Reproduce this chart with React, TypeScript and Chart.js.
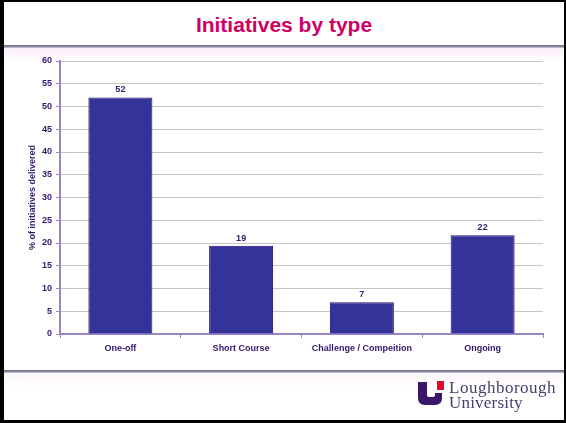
import React, { useEffect, useRef } from "react";
import { Chart, registerables } from "chart.js";

Chart.register(...registerables);

const categories = ["One-off", "Short Course", "Challenge / Compeition", "Ongoing"];
const values = [52, 19.4, 7, 21.7];
const yMin = 0;
const yMax = 60;
const yStep = 5;
const chartTitle = "Initiatives by type";
const yAxisTitle = "% of initiatives delivered";

const FONT = "Arial, 'Liberation Sans', sans-serif";
const TEXT_PURPLE = "#33186b";
const AXIS_PURPLE = "#9886c2";

const barLabelPlugin = {
  id: "barLabels",
  afterDatasetsDraw(chart: any) {
    const ctx = chart.ctx;
    const meta = chart.getDatasetMeta(0);
    ctx.save();
    ctx.font = `bold 9px ${FONT}`;
    ctx.fillStyle = TEXT_PURPLE;
    ctx.textAlign = "center";
    ctx.textBaseline = "alphabetic";
    meta.data.forEach((bar: any, i: number) => {
      ctx.fillText(String(Math.round(values[i])), bar.x, bar.y - 5);
    });
    ctx.restore();
  },
};

export default function App() {
  const canvasRef = useRef<HTMLCanvasElement | null>(null);

  useEffect(() => {
    if (!canvasRef.current) return;
    const chart = new Chart(canvasRef.current, {
      type: "bar",
      data: {
        labels: categories,
        datasets: [
          {
            data: values,
            backgroundColor: "#333399",
            borderColor: "#2a0d6a",
            borderWidth: 1,
            barPercentage: 0.53,
            categoryPercentage: 1,
          },
        ],
      },
      options: {
        animation: false,
        responsive: false,
        maintainAspectRatio: false,
        layout: { padding: { left: 0, top: 61, right: 23, bottom: 0 } },
        plugins: {
          legend: { display: false },
          title: { display: false },
          tooltip: { enabled: false },
        },
        scales: {
          x: {
            type: "category",
            offset: true,
            afterFit: (axis: any) => {
              axis.height = 89;
            },
            grid: {
              display: true,
              drawOnChartArea: false,
              drawTicks: true,
              tickLength: 4,
              tickColor: AXIS_PURPLE,
              offset: true,
            },
            border: { display: true, color: AXIS_PURPLE, width: 2 },
            ticks: {
              color: TEXT_PURPLE,
              font: { family: FONT, size: 9, weight: "bold" },
              padding: 5,
              maxRotation: 0,
              autoSkip: false,
            },
          },
          y: {
            min: yMin,
            max: yMax,
            afterFit: (axis: any) => {
              axis.width = 60;
            },
            grid: {
              color: "#c6c6c6",
              lineWidth: 1,
              drawTicks: true,
              tickLength: 4,
              tickColor: AXIS_PURPLE,
            },
            border: { display: true, color: AXIS_PURPLE, width: 2 },
            ticks: {
              stepSize: yStep,
              color: TEXT_PURPLE,
              font: { family: FONT, size: 9, weight: "bold" },
              padding: 4,
            },
            title: {
              display: true,
              text: yAxisTitle,
              color: TEXT_PURPLE,
              font: { family: FONT, size: 9, weight: "bold" },
              padding: { top: 27, bottom: 0 },
            },
          },
        },
      },
      plugins: [barLabelPlugin],
    } as any);
    return () => chart.destroy();
  }, []);

  return (
    <div
      style={{
        position: "fixed",
        left: 0,
        top: 0,
        width: 566,
        height: 423,
        background: "#000",
        overflow: "hidden",
      }}
    >
      <div
        style={{
          position: "absolute",
          left: 4,
          top: 2,
          width: 560,
          height: 418,
          background: "#fff",
        }}
      />
      <div
        style={{
          position: "absolute",
          left: 4,
          top: 48,
          width: 560,
          height: 14,
          background: "linear-gradient(#fbeff8, #ffffff)",
        }}
      />
      <div
        style={{
          position: "absolute",
          left: 4,
          top: 45,
          width: 560,
          height: 3,
          background: "linear-gradient(#6a6582, #8d88a3, #cfcbd9)",
        }}
      />
      <div
        style={{
          position: "absolute",
          left: 4,
          top: 373,
          width: 560,
          height: 14,
          background: "linear-gradient(#fcf6fa, #ffffff)",
        }}
      />
      <div
        style={{
          position: "absolute",
          left: 4,
          top: 370,
          width: 560,
          height: 3,
          background: "linear-gradient(#6a6582, #8d88a3, #cfcbd9)",
        }}
      />
      <div
        style={{
          position: "absolute",
          left: 4,
          top: 13,
          width: 560,
          height: 24,
          lineHeight: "24px",
          textAlign: "center",
          fontFamily: FONT,
          fontWeight: "bold",
          fontSize: 21,
          color: "#cc0066",
          whiteSpace: "nowrap",
        }}
      >
        {chartTitle}
      </div>
      <canvas
        ref={canvasRef}
        width={566}
        height={423}
        style={{ position: "absolute", left: 0, top: 0, width: 566, height: 423 }}
      />
      <svg
        width={40}
        height={36}
        viewBox="0 0 40 36"
        style={{ position: "absolute", left: 410, top: 376 }}
      >
        <path
          d="M8,6 H17 V19 Q17,21 19,21 H23 Q25,21 25,19 V17 H32 V22 Q32,29 25,29 H15 Q8,29 8,22 Z"
          fill="#3a1768"
        />
        <rect x={27} y={5} width={7} height={9} fill="#e2062c" />
      </svg>
      <div
        style={{
          position: "absolute",
          left: 449,
          top: 379,
          fontFamily: "'Liberation Serif', 'Times New Roman', serif",
          fontSize: 17,
          lineHeight: "17px",
          letterSpacing: 0.5,
          color: "#4a3c70",
          whiteSpace: "nowrap",
        }}
      >
        Loughborough
      </div>
      <div
        style={{
          position: "absolute",
          left: 449,
          top: 394,
          fontFamily: "'Liberation Serif', 'Times New Roman', serif",
          fontSize: 17,
          lineHeight: "17px",
          letterSpacing: 0.2,
          color: "#4a3c70",
          whiteSpace: "nowrap",
        }}
      >
        University
      </div>
    </div>
  );
}
